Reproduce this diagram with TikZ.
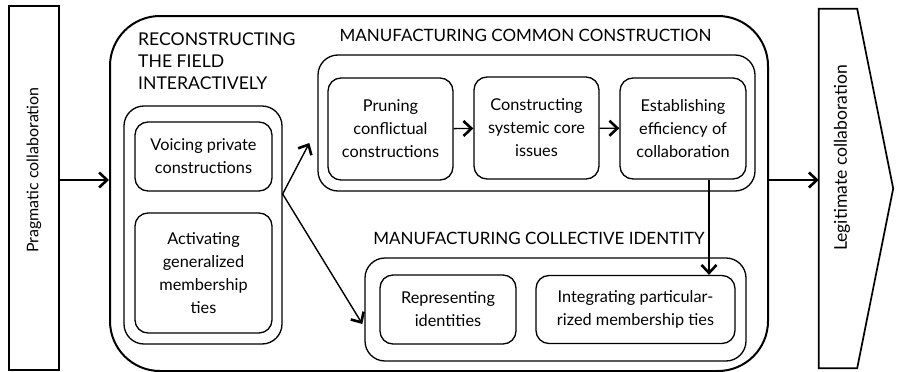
\documentclass[tikz,border=0pt]{standalone}
\usepackage{fontspec}
\setmainfont{Lato}
\usetikzlibrary{arrows.meta}

\begin{document}
\begin{tikzpicture}[x=1pt, y=-1pt,
        stage/.style={draw, line width=1.3pt, rounded corners=13pt, align=center, inner sep=0pt, font=\fontsize{16.3}{23}\selectfont},
        group/.style={draw, line width=1.3pt, rounded corners=20pt, inner sep=0pt},
        heading/.style={align=left, inner sep=0pt, font=\fontsize{17}{22}\selectfont},
        phase/.style={inner sep=0pt, rotate=90, font=\fontsize{16}{20}\selectfont},
        arr/.style={-{Straight Barb[length=8pt,width=15pt,line width=2.6pt]}, line width=1.4pt}]
        \useasboundingbox (0,0) rectangle (898,372);

        % outer phases
        \node[draw, line width=1.7pt, minimum width=50, minimum height=364] at (34,188) (prag) {};
        \node[phase] at (34,170) (pragtext) {Pragmatic collaboration};
        \node[minimum width=38, minimum height=359, inner sep=0pt] at (838,188.5) (legit) {};
        \draw[line width=1.7pt] (legit.north west) -- (legit.north east) -- ([xshift=36pt]legit.east) -- (legit.south east) -- (legit.south west) -- cycle;
        \node[phase, font=\fontsize{17.6}{20}\selectfont] at (842,158) (legittext) {Legitimate collaboration};

        \node[draw, line width=2pt, rounded corners=50pt, minimum width=658, minimum height=355] at (439,193.5) (big) {};

        % reconstructing the field
        \node[heading, anchor=north west, font=\fontsize{17.6}{22}\selectfont] at (138,33) (rechead) {RECONSTRUCTING\\THE FIELD\\INTERACTIVELY};
        \node[group, minimum width=158, minimum height=238] at (203,225) (recbox) {};
        \node[stage, minimum width=137, minimum height=69] at (203.5,156.5) (voice) {Voicing private\\constructions};
        \node[stage, minimum width=137, minimum height=120] at (203.5,273) (activ) {Activating\\generalized\\membership\\ties};

        % common construction
        \node[heading, align=center] at (525.5,35) (comhead) {MANUFACTURING COMMON CONSTRUCTION};
        \node[group, minimum width=437, minimum height=136] at (536.5,123) (combox) {};
        \node[stage, minimum width=125, minimum height=102] at (390.5,129) (prune) {Pruning\\conflictual\\constructions};
        \node[stage, minimum width=125, minimum height=102] at (536.5,128) (constr) {Constructing\\systemic core\\issues};
        \node[stage, minimum width=126, minimum height=101] at (683,128.5) (establ) {Establishing\\efficiency of\\collaboration};

        % collective identity
        \node[heading, align=center] at (539,238) (colhead) {MANUFACTURING COLLECTIVE IDENTITY};
        \node[group, minimum width=381, minimum height=103] at (555.5,309.5) (collbox) {};
        \node[stage, minimum width=136, minimum height=69] at (448,309.5) (repr) {Representing\\identities};
        \node[stage, minimum width=199, minimum height=68] at (635.5,309.5) (integ) {Integrating particular-\\rized membership ties};

        \coordinate (fork) at ([yshift=31pt]recbox.east);

        \draw[arr] ([yshift=8pt]prag.east) -- ([yshift=13.5pt]big.west);
        \draw[arr] (fork) -- ([shift={(-8pt,-20pt)}]combox.west);
        \draw[arr] (fork) -- ([shift={(-2pt,-14.5pt)}]collbox.west);
        \draw[arr] (prune) -- (constr);
        \draw[arr] (constr) -- (establ);
        \draw[arr] ([xshift=26pt]establ.south) -- ([xshift=26pt]establ.south |- integ.north);
        \draw[arr] ([yshift=13.5pt]big.east) -- ([yshift=13.5pt]big.east -| legit.west);
\end{tikzpicture}
\end{document}
